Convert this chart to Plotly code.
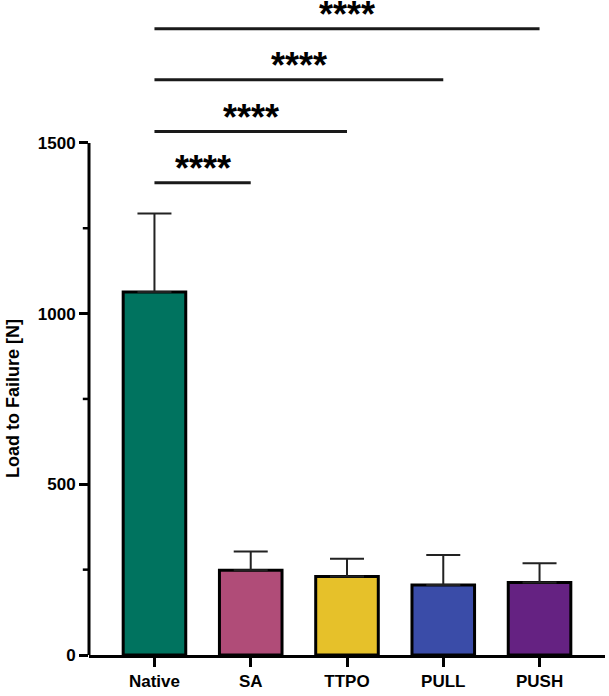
import plotly.graph_objects as go

categories = ["Native", "SA", "TTPO", "PULL", "PUSH"]
means = [1063, 248, 230, 205, 212]
sd = [230, 55, 52, 88, 57]
colors = ["#00735f", "#b04c78", "#e6c12a", "#3a4ca8", "#652282"]

# significance comparisons: (group a, group b, bar height, label)
comparisons = [("Native", "SA", 1383, "****"),
               ("Native", "TTPO", 1533, "****"),
               ("Native", "PULL", 1685, "****"),
               ("Native", "PUSH", 1834, "****")]

yticks = [0, 500, 1000, 1500]
yminor = [250, 750, 1250]
ytitle = "Load to Failure [N]"

FONT = "Liberation Sans"

fig = go.Figure()
fig.add_trace(go.Bar(
    x=list(range(len(categories))), y=means,
    marker=dict(color=colors, line=dict(color="black", width=3)),
    width=0.65,
    error_y=dict(type="data", array=sd, arrayminus=[0]*len(sd), symmetric=False,
                 color="#222222", thickness=2, width=17),
    showlegend=False,
))

idx = {c: i for i, c in enumerate(categories)}
for a, b, h, lab in comparisons:
    fig.add_shape(type="line", xref="x", yref="y", x0=idx[a], x1=idx[b], y0=h, y1=h,
                  line=dict(color="#1a1a1a", width=3))
    fig.add_annotation(x=(idx[a] + idx[b]) / 2, y=h, xref="x", yref="y", text="<b>" + lab + "</b>",
                       showarrow=False, yanchor="bottom", yshift=-8,
                       font=dict(family=FONT, size=36, color="black"))

# y axis line only from 0 to 1500
fig.add_shape(type="line", xref="paper", yref="y", x0=0, x1=0, y0=0, y1=yticks[-1],
              line=dict(color="black", width=3))
# minor ticks
for m in yminor:
    fig.add_shape(type="line", xref="paper", yref="y", x0=-0.012, x1=0, y0=m, y1=m,
                  line=dict(color="black", width=2.5))

# y-axis title centred on the drawn axis (0..1500)
fig.add_annotation(xref="paper", yref="y", x=-0.147, y=yticks[-1] / 2, xanchor="center", yanchor="middle",
                   text="<b>" + ytitle + "</b>", textangle=-90, showarrow=False,
                   font=dict(family=FONT, size=18, color="black"))

fig.update_layout(
    width=609, height=696,
    margin=dict(l=89, r=4, t=7, b=41),
    plot_bgcolor="white", paper_bgcolor="white",
    xaxis=dict(range=[-0.68, 4.68], tickvals=list(range(len(categories))),
               ticktext=["<b>" + c + "</b>" for c in categories],
               showline=True, linecolor="black", linewidth=3,
               ticks="outside", ticklen=9, tickwidth=3, tickcolor="black",
               tickfont=dict(family=FONT, size=17, color="black"),
               showgrid=False, zeroline=False),
    yaxis=dict(range=[0, 1898], tickvals=yticks,
               ticktext=["<b>%d</b>" % v for v in yticks],
               showline=False, ticks="outside", ticklen=9, tickwidth=3, tickcolor="black",
               tickfont=dict(family=FONT, size=17, color="black"),
               showgrid=False, zeroline=False),
)

fig.write_html("out.html")
